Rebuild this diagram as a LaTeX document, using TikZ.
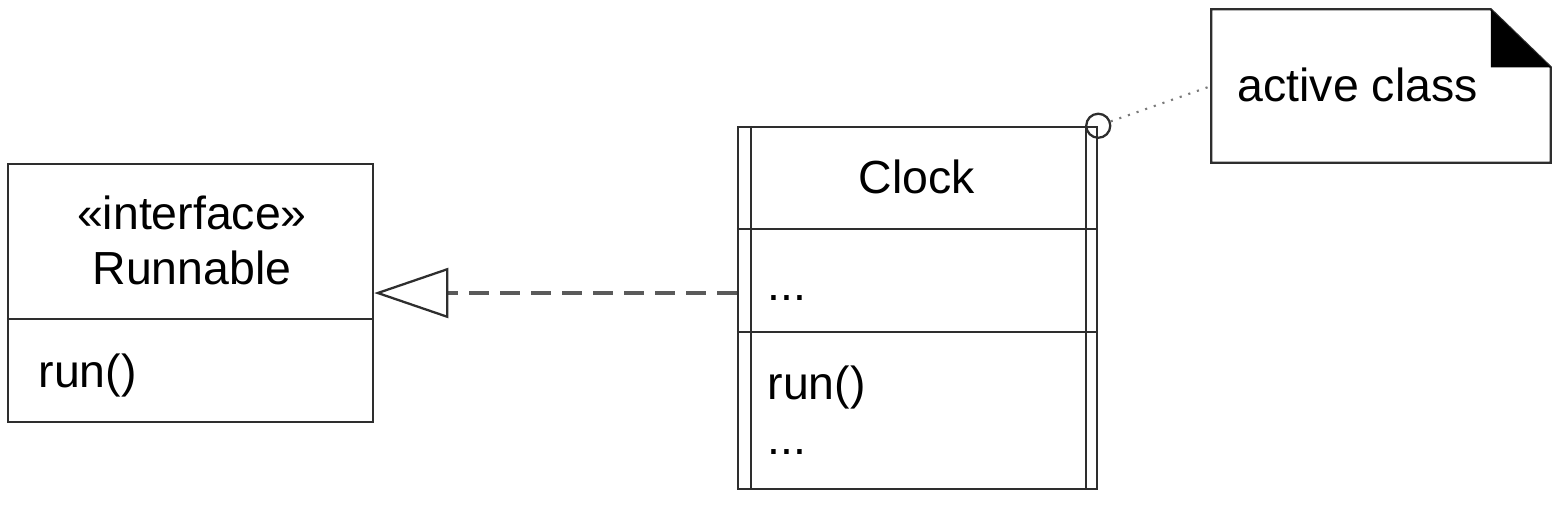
\documentclass[tikz,border=0pt]{standalone}
\usepackage{fontspec}
\setmainfont{Liberation Sans}
\usetikzlibrary{arrows.meta}
\definecolor{linegray}{HTML}{2E2E2E}
\definecolor{dashgray}{HTML}{5A5A5A}
\definecolor{dotgray}{HTML}{7A7A7A}
\tikzstyle{classbox} = [rectangle, draw=linegray, line width=0.65pt, inner sep=0pt]
\tikzstyle{sepline} = [draw=linegray, line width=0.65pt]
\tikzstyle{txt} = [inner sep=0pt, font=\fontsize{13.2}{15}\selectfont]
\tikzstyle{realize} = [draw=dashgray, line width=1pt, dash pattern=on 0.2cm off 0.11cm, -{Triangle[open, length=0.74cm, width=0.5cm, line width=0.65pt, color=linegray]}]
\tikzstyle{noteline} = [draw=dotgray, line width=0.6pt, dotted]

\begin{document}
\begin{tikzpicture}[x=0.01cm, y=-0.01cm]
    \useasboundingbox (0,0) rectangle (1567,505);

    % Interface
    \node (runnable) [classbox, minimum width=3.65cm, minimum height=2.58cm] at (190.5,293) {};
    \draw [sepline] ([yshift=-1.56cm]runnable.north west) -- ([yshift=-1.56cm]runnable.north east);
    \node (stereo) [txt, anchor=base] at (192,229) {«interface»};
    \node (runname) [txt, anchor=base] at (192,284) {Runnable};
    \node (runop) [txt, anchor=base west] at (38,387) {run()};

    % Active class
    \node (clock) [classbox, minimum width=3.59cm, minimum height=3.62cm] at (917.5,308) {};
    \foreach \d in {1.03,2.06}
        \draw [sepline] ([yshift=-\d cm]clock.north west) -- ([yshift=-\d cm]clock.north east);
    \draw [sepline] ([xshift=0.14cm]clock.north west) -- ([xshift=0.14cm]clock.south west);
    \draw [sepline] ([xshift=-0.12cm]clock.north east) -- ([xshift=-0.12cm]clock.south east);
    \node (clockname) [txt, anchor=base] at (917,193) {Clock};
    \node (clockattr) [txt, anchor=base west] at (767,300) {...};
    \node (clockop) [txt, anchor=base west] at (767,399) {run()};
    \node (clockmore) [txt, anchor=base west] at (767,454) {...};
    \node (activemark) [circle, draw=linegray, line width=0.65pt, minimum size=0.24cm, inner sep=0pt] at (clock.north east) {};

    % Note
    \node (note) [minimum width=3.38cm, minimum height=1.52cm, inner sep=0pt] at (1381,86) {};
    \draw [sepline] (note.north west) -- ([xshift=-0.6cm]note.north east) -- ([yshift=-0.58cm]note.north east) -- (note.south east) -- (note.south west) -- cycle;
    \fill [black] ([xshift=-0.6cm]note.north east) -- ([xshift=-0.6cm,yshift=-0.58cm]note.north east) -- ([yshift=-0.58cm]note.north east) -- cycle;
    \node (notetext) [txt, anchor=base west] at (1237,101) {active class};

    % Connectors
    \draw [realize] (clock.west |- runnable.east) -- (runnable.east);
    \draw [noteline] (activemark) -- (note.west);
\end{tikzpicture}
\end{document}
